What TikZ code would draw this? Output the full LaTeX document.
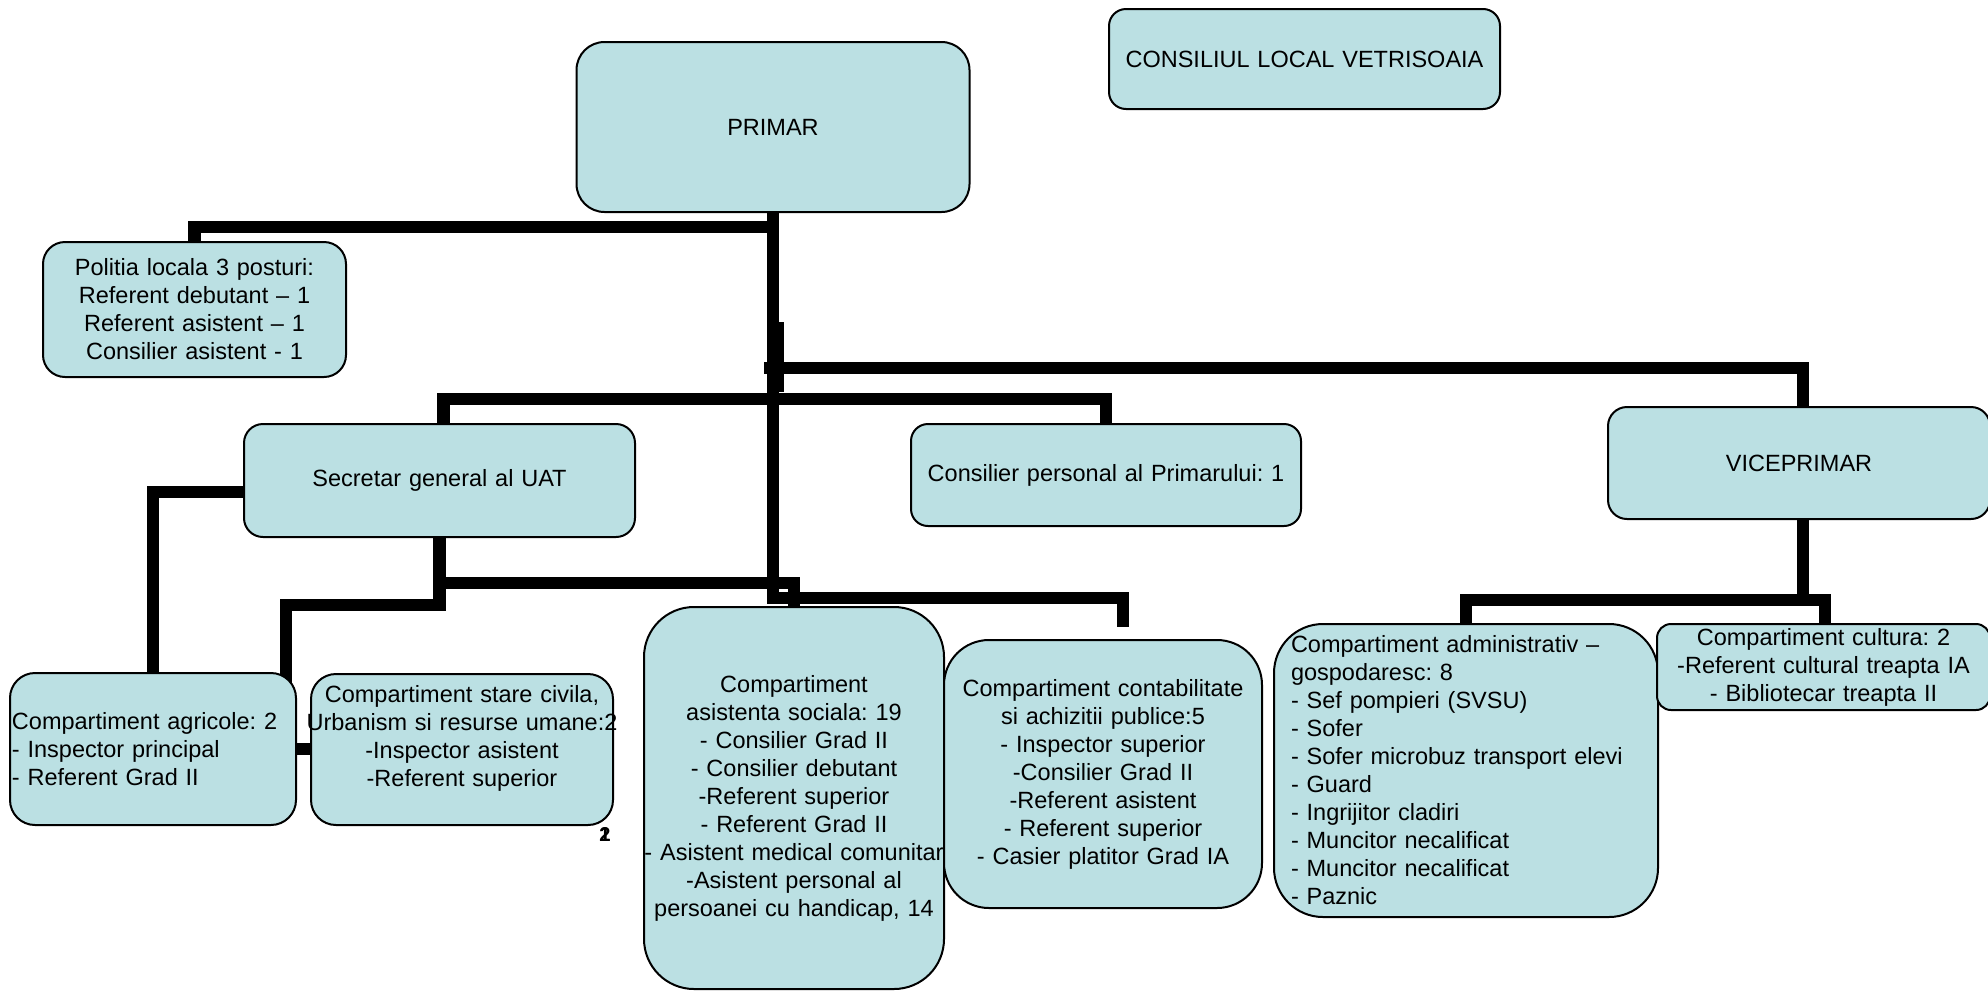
\documentclass[tikz,border=0pt]{standalone}
\usepackage{fontspec}
\setmainfont{Liberation Sans}
\usetikzlibrary{backgrounds}
\definecolor{boxfill}{RGB}{187,224,227}
\frenchspacing
\begin{document}
\begin{tikzpicture}[x=1pt,y=-1pt,
  box/.style={draw=black,line width=2pt,fill=boxfill,inner sep=0pt,outer sep=0pt,align=center,font=\fontsize{23.5}{28}\selectfont},
  conn/.style={draw=black,line width=12.5pt,line join=miter},
  ovl/.style={inner sep=0pt,font=\fontsize{20}{20}\selectfont\bfseries}]
\useasboundingbox (0,0) rectangle (1988,991);

% boxes
\node[box,rounded corners=28pt,minimum width=393pt,minimum height=170pt,text width=393pt] (primar) at (773,127) {PRIMAR};
\node[box,rounded corners=17pt,minimum width=391pt,minimum height=100pt,text width=391pt] (consiliul) at (1304.5,59) {CONSILIUL LOCAL VETRISOAIA};
\node[box,rounded corners=22pt,minimum width=303pt,minimum height=135pt,text width=303pt] (politia) at (194.5,309.5) {Politia locala 3 posturi:\\Referent debutant – 1\\Referent asistent – 1\\Consilier asistent - 1};
\node[box,rounded corners=19pt,minimum width=391pt,minimum height=113pt,text width=391pt] (secretar) at (439.5,480.5) {Secretar general al UAT};
\node[box,rounded corners=17pt,minimum width=390pt,minimum height=102pt,text width=390pt] (consilier) at (1106,475) {Consilier personal al Primarului: 1};
\node[box,rounded corners=19pt,minimum width=382pt,minimum height=112pt,text width=382pt] (vice) at (1799,463) {VICEPRIMAR};
\node[box,rounded corners=25pt,minimum width=286pt,minimum height=152pt,inner xsep=2pt,text width=282pt,align=left] (agri) at (153,749) {Compartiment agricole: 2\\- Inspector principal\\- Referent Grad II};
\node[box,rounded corners=25pt,minimum width=302pt,minimum height=151pt,text width=302pt] (stare) at (462,749.5) {Compartiment stare civila,\\\makebox[302pt]{Urbanism si resurse umane:2}\\-Inspector asistent\\-Referent superior\\\mbox{}};
\node[box,rounded corners=50pt,minimum width=300pt,minimum height=382pt,text width=300pt] (asist) at (794,798) {Compartiment\\asistenta sociala: 19\\- Consilier Grad II\\- Consilier debutant\\-Referent superior\\- Referent Grad II\\\makebox[300pt]{- Asistent medical comunitar}\\-Asistent personal al\\persoanei cu handicap, 14};
\node[box,rounded corners=45pt,minimum width=318pt,minimum height=268pt,text width=318pt] (contab) at (1103,774) {Compartiment contabilitate\\si achizitii publice:5\\- Inspector superior\\-Consilier Grad II\\-Referent asistent\\- Referent superior\\- Casier platitor Grad IA};
\node[box,rounded corners=49pt,minimum width=384pt,minimum height=293pt,inner xsep=17pt,text width=350pt,align=left] (admin) at (1466,770.5) {Compartiment administrativ –\\gospodaresc: 8\\- Sef pompieri (SVSU)\\- Sofer\\- Sofer microbuz transport elevi\\- Guard\\- Ingrijitor cladiri\\- Muncitor necalificat\\- Muncitor necalificat\\- Paznic};
\node[box,rounded corners=14pt,minimum width=333pt,minimum height=86pt,text width=333pt] (cult) at (1823.5,667) {Compartiment cultura: 2\\-Referent cultural treapta IA\\- Bibliotecar treapta II};

% overlapping digits below the civil-status box
\node[ovl] (ov1) at (605,835) {1};
\node[ovl] (ov2) at (605,835) {2};

% connector coordinates
\coordinate (tb) at (773,598);
\coordinate (ce) at (1123,627);
\coordinate (sb) at (773,399);
\coordinate (vs) at (764,368);
\coordinate (va) at (778,322);
\coordinate (vb) at (778,392);
\coordinate (sl) at (286,605);
\coordinate (sl2) at (286,687);

\begin{pgfonlayer}{background}
\draw[conn] (primar.south) -- (tb) -| (ce);
\draw[conn] (primar.south) ++(0,15) -| (politia.north);
\draw[conn] ([xshift=4pt]secretar.north) |- (sb) -| (consilier.north);
\draw[conn] (va) -- (vb);
\draw[conn] (vs) -| ([xshift=4pt]vice.north);
\draw[conn] ([yshift=-11.5pt]secretar.west) -| (agri.north);
\draw[conn] (secretar.south) |- (sl) -- (sl2);
\draw[conn] (secretar.south) ++(0,46) -| (asist.north);
\draw[conn] (agri.east) -- (agri.east -| stare.west);
\draw[conn] ([xshift=4pt]vice.south) -- ++(0,81);
\draw[conn] (admin.north) -- ++(0,-24) -| ([xshift=1.5pt]cult.north);
\end{pgfonlayer}
\end{tikzpicture}
\end{document}
